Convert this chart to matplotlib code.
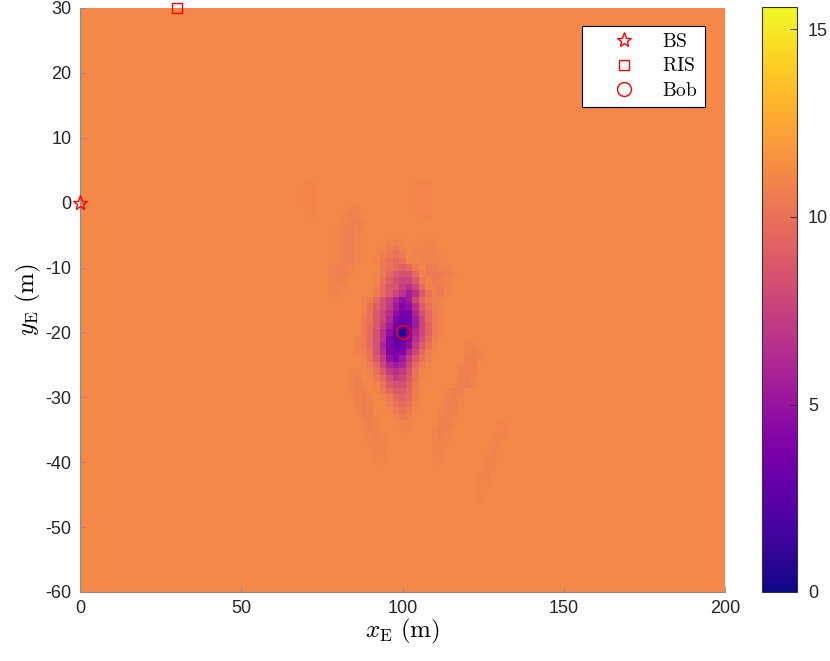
import numpy as np
import matplotlib.pyplot as plt

plt.rcParams['font.family'] = ['Liberation Sans', 'DejaVu Sans']
plt.rcParams['mathtext.fontset'] = 'cm'
plt.rcParams['axes.unicode_minus'] = False

# background secrecy-rate level and colour scale
BG = 11.1
VMIN, VMAX = 0, 15.6

# grid of the map (m)
X_MIN, X_MAX, X_STEP = 0, 200, 2
Y_MIN, Y_MAX, Y_STEP = -60, 30, 1

LEVELS = {'.': BG, '1': 11.0, '2': 10.85, '3': 10.7, '4': 10.45, '5': 10.1,
          '6': 9.6, '7': 9.2, '8': 8.8, '9': 8.3, 'a': 7.8, 'b': 7.2,
          'c': 6.6, 'd': 6.0, 'e': 5.4, 'f': 4.8, 'g': 4.2, 'h': 3.6,
          'i': 3.0, 'j': 2.4, 'k': 0.5}
MAP_X0 = 66   # x of first column, columns every 2 m
MAP_Y0 = 4    # y of first row, rows every 1 m going down
DIP_MAP = [
    "...................................",  # 4
    "..11...............111.............",  # 3
    "..11...............111.............",  # 2
    "..11...............111.............",  # 1
    "..11...............111.............",  # 0
    "..11.....22........111.............",  # -1
    "...1....232.........11.............",  # -2
    "........2332.......................",  # -3
    ".......2332........................",  # -4
    ".......2332.....1..................",  # -5
    ".......2332....221..111............",  # -6
    ".......2332...1342.2222............",  # -7
    ".......2332...3454.22221...........",  # -8
    ".......2332..24565123221...........",  # -9
    "......2332....45676414322..........",  # -10
    "......2332...2468996244432.........",  # -11
    "......232....2579aa842432..........",  # -12
    "......222....3689bca63342..........",  # -13
    "......12.....468acec85342..........",  # -14
    "...........2469bdfea6432...........",  # -15
    "...........2579begfc8532...........",  # -16
    "...........358acfhhd9642...........",  # -17
    "...........458adgihea642...........",  # -18
    "...........468behjhea742...........",  # -19
    "...........469cfikhda742...........",  # -20
    "..........2469cgjjgc9631...........",  # -21
    "..........2469dgihfb852....22......",  # -22
    "..........2359cghgda641....232.....",  # -23
    "...........258bfgeb853.....332.....",  # -24
    "...........146adeda642....233......",  # -25
    ".........22.258bcb952.....233......",  # -26
    ".........23.1469ba852.....332......",  # -27
    ".........232.2589974......332......",  # -28
    ".........233.1468863....233........",  # -29
    "..........332.246763....232........",  # -30
    "..........232..35652....332........",  # -31
    "..........233..14541...233.........",  # -32
    "...........332..243....232.........",  # -33
    "...........232...22....332......11.",  # -34
    "...........232...11...232.......11.",  # -35
    "............231.......232......121.",  # -36
    "............221.......221......12..",  # -37
    "............122.......22.......21..",  # -38
    ".............11.......12......121..",  # -39
    ".............11.......11......12...",  # -40
    "..............................21...",  # -41
    ".............................12....",  # -42
    ".............................11....",  # -43
    ".............................11....",  # -44
    ".............................1.....",  # -45
    ".............................1.....",  # -46
]

BS = (0, 0)
RIS = (30, 30)
BOB = (100, -20)

xs = np.arange(X_MIN, X_MAX + 1, X_STEP)
ys = np.arange(Y_MIN, Y_MAX + 1, Y_STEP)
Z = np.full((len(ys), len(xs)), BG)
for r, row in enumerate(DIP_MAP):
    iy = (MAP_Y0 - r * Y_STEP) - Y_MIN
    for c, ch in enumerate(row):
        ix = (MAP_X0 + c * X_STEP - X_MIN) // X_STEP
        Z[iy, ix] = LEVELS[ch]

x_edges = np.append(xs - X_STEP / 2, xs[-1] + X_STEP / 2)
y_edges = np.append(ys - Y_STEP / 2, ys[-1] + Y_STEP / 2)

fig = plt.figure(figsize=(8.3, 6.61), dpi=100)
ax = fig.add_axes((80 / 830, 69 / 661, 645 / 830, 584 / 661))
mesh = ax.pcolormesh(x_edges, y_edges, Z, cmap='plasma', vmin=VMIN, vmax=VMAX,
                     shading='flat', rasterized=True)
ax.set_xlim(X_MIN, X_MAX)
ax.set_ylim(Y_MIN, Y_MAX)
ax.set_xticks([0, 50, 100, 150, 200])
ax.set_yticks(np.arange(-60, 31, 10))

ax.plot(*BS, ls='none', marker='*', ms=11, mfc='none', mec='red', mew=1.0,
        clip_on=False, zorder=5, label=r'$\mathrm{BS}$')
ax.plot(*RIS, ls='none', marker='s', ms=7.5, mfc='none', mec='red', mew=1.0,
        clip_on=False, zorder=5, label=r'$\mathrm{RIS}$')
ax.plot(*BOB, ls='none', marker='o', ms=10, mfc='none', mec='red', mew=1.0,
        clip_on=False, zorder=5, label=r'$\mathrm{Bob}$')

leg = ax.legend(loc='upper right', bbox_to_anchor=(1 - 20 / 645, 1 - 18 / 584),
                borderaxespad=0, fontsize=14, handlelength=3.6,
                handletextpad=0.15, borderpad=0.36, labelspacing=0.33,
                fancybox=False, framealpha=1, edgecolor='black')
leg.get_frame().set_linewidth(0.8)

ax.set_xlabel(r'$x_{\mathrm{E}}\ (\mathrm{m})$', fontsize=18, labelpad=0)
ax.set_ylabel(r'$y_{\mathrm{E}}\ (\mathrm{m})$', fontsize=18, labelpad=2)

for s in ['top', 'right']:
    ax.spines[s].set_visible(False)
for s in ['left', 'bottom']:
    ax.spines[s].set_color('0.55')
    ax.spines[s].set_linewidth(0.8)
ax.tick_params(direction='in', length=4, width=0.6, color='0.55',
               labelsize=13, labelcolor='0.15', pad=6)

cax = fig.add_axes((762 / 830, 69 / 661, 35 / 830, 585 / 661))
cb = fig.colorbar(mesh, cax=cax, ticks=[0, 5, 10, 15])
cb.outline.set_linewidth(0.8)
cb.outline.set_edgecolor('0.2')
cax.tick_params(direction='in', length=5, width=0.6, color='0.15',
                labelsize=13, labelcolor='0.15', pad=8)

fig.savefig('out.png', dpi=100)
